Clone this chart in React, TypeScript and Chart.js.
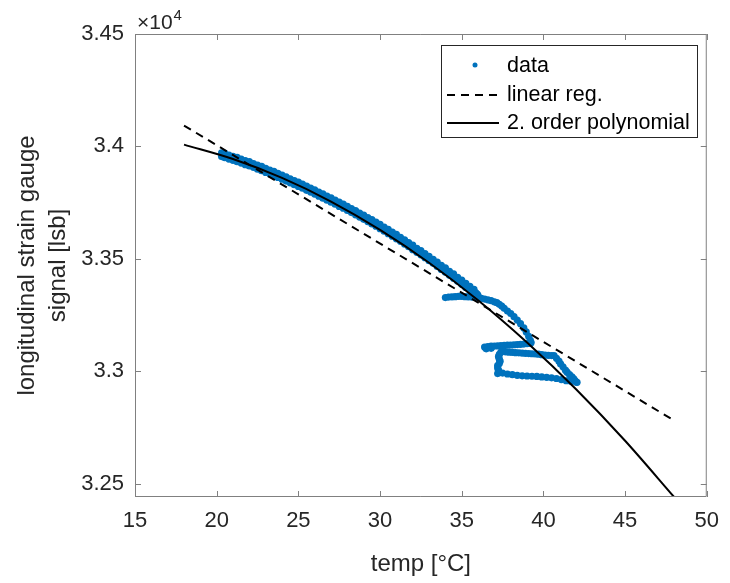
import React, { useEffect, useRef } from 'react';
import { Chart, registerables } from 'chart.js';

Chart.register(...registerables);

const FONT = "'Liberation Sans', Arial, Helvetica, sans-serif";
const TEXT = '#262626';
const AXIS = '#808080';
const BLUE = '#0072BD';

// tick values
const xTicks = [15, 20, 25, 30, 35, 40, 45, 50];
const yTicks = [32500, 33000, 33500, 34000, 34500]; // raw lsb
const yExponent = 4;

// main band of measurement (temp in °C, signal in lsb)
const mainTemp = [20.3, 20.5, 20.75, 21, 21.25, 21.5, 21.75, 22, 22.25, 22.5,
  22.75, 23, 23.25, 23.5, 23.75, 24, 24.25, 24.5, 24.75, 25,
  25.25, 25.5, 25.75, 26, 26.25, 26.5, 26.75, 27, 27.25, 27.5,
  27.75, 28, 28.25, 28.5, 28.75, 29, 29.25, 29.5, 29.75, 30,
  30.25, 30.5, 30.75, 31, 31.25, 31.5, 31.75, 32, 32.25, 32.5,
  32.75, 33, 33.25, 33.5, 33.75, 34, 34.25, 34.5, 34.75, 35,
  35.25, 35.5, 35.75];
const mainUpper = [33971, 33969, 33962, 33956, 33951, 33944, 33937, 33932, 33924, 33917,
  33911, 33902, 33895, 33889, 33880, 33872, 33865, 33856, 33848, 33841,
  33832, 33824, 33815, 33807, 33797, 33789, 33779, 33771, 33761, 33752,
  33743, 33734, 33724, 33715, 33704, 33695, 33684, 33675, 33663, 33653,
  33641, 33631, 33619, 33609, 33596, 33585, 33572, 33561, 33547, 33537,
  33523, 33511, 33498, 33486, 33471, 33460, 33445, 33433, 33418, 33406,
  33391, 33378, 33364];
const mainLower = [33955, 33950, 33944, 33938, 33932, 33926, 33919, 33913, 33907, 33899,
  33892, 33884, 33878, 33870, 33862, 33854, 33846, 33838, 33830, 33822,
  33814, 33805, 33797, 33788, 33779, 33770, 33761, 33752, 33743, 33733,
  33725, 33715, 33706, 33696, 33686, 33676, 33666, 33655, 33645, 33634,
  33623, 33612, 33601, 33589, 33578, 33566, 33554, 33541, 33529, 33518,
  33505, 33492, 33480, 33466, 33453, 33441, 33427, 33414, 33400, 33387,
  33373, 33359, 33346];

// hysteresis loop part
const loopTemp = [35.85, 35.95, 36.0,
  34.0, 34.2, 34.4, 34.6, 34.8, 35.0, 35.2, 35.4, 35.6, 35.8, 36.0, 36.2,
  36.4, 36.6, 36.8, 37.0, 37.15, 37.3, 37.45, 37.6, 37.8, 38.0, 38.2, 38.4, 38.6, 38.8, 38.95, 39.1, 39.2, 39.25,
  36.4, 36.5, 36.6, 36.8, 36.8, 37.0, 37.2, 37.4, 37.6, 37.8, 38.0, 38.2, 38.4, 38.6, 38.8, 39.0, 39.2,
  37.7, 37.9, 38.1, 38.3, 38.5, 38.7, 38.9, 39.1, 39.3, 39.5, 39.7, 39.9, 40.1, 40.3, 40.5,
  37.5, 37.4, 37.3, 37.25, 37.3, 37.35, 37.3, 37.2, 37.2, 37.25, 37.3, 37.2,
  37.5, 37.8, 38.1, 38.4, 38.7, 39.0, 39.3, 39.6, 39.9, 40.2, 40.5, 40.8, 41.1, 41.4, 41.7, 42.0,
  40.65, 40.8, 40.95, 41.05, 41.2, 41.35, 41.45, 41.6, 41.75, 41.86, 41.95, 42.06];
const loopSignal = [33350, 33343, 33337,
  33328, 33330, 33331, 33332, 33333, 33333, 33332, 33331, 33330, 33329, 33327, 33324,
  33321, 33318, 33314, 33309, 33305, 33298, 33290, 33280, 33268, 33257, 33243, 33228, 33212, 33193, 33175, 33155, 33138, 33128,
  33108, 33100, 33110, 33102, 33112, 33112, 33113, 33114, 33115, 33116, 33117, 33118, 33119, 33120, 33121, 33123, 33124,
  33086, 33085, 33084, 33083, 33082, 33081, 33080, 33079, 33078, 33077, 33076, 33074, 33072, 33071, 33070,
  33095, 33085, 33075, 33065, 33055, 33045, 33035, 33025, 33015, 33005, 32995, 32990,
  32992, 32988, 32985, 32982, 32980, 32979, 32978, 32977, 32975, 32973, 32971, 32968, 32963, 32958, 32955, 32952,
  33070, 33058, 33045, 33033, 33020, 33005, 32996, 32985, 32975, 32966, 32958, 32951];

// fits
const linTemp = [18, 48];
const linSignal = [34093, 32781];
const polyTemp = [18, 21, 24, 27, 30, 33, 36, 39, 42, 45, 48];
const polySignal = [34008, 33944, 33860, 33755, 33629, 33483, 33316, 33128, 32920, 32691, 32441];

const labels = ['data', 'linear reg.', '2. order polynomial'];

function pts(xs: number[], ys: number[]) {
  return xs.map((x, i) => ({ x, y: ys[i] }));
}

const overlayPlugin = {
  id: 'matlabOverlay',
  afterDatasetsDraw(chart: any) {
    const { ctx, chartArea: a, scales } = chart;
    const xs = scales.x;
    const ys = scales.y;
    ctx.save();
    ctx.strokeStyle = AXIS;
    ctx.lineWidth = 1;
    ctx.beginPath();
    ctx.rect(a.left + 0.5, a.top + 0.5, a.right - a.left - 1, a.bottom - a.top - 1);
    ctx.stroke();
    const tl = 6;
    ctx.beginPath();
    xTicks.forEach((v) => {
      const p = Math.round(xs.getPixelForValue(v)) + 0.5;
      ctx.moveTo(p, a.bottom);
      ctx.lineTo(p, a.bottom - tl);
      ctx.moveTo(p, a.top);
      ctx.lineTo(p, a.top + tl);
    });
    yTicks.forEach((v) => {
      const p = Math.round(ys.getPixelForValue(v)) + 0.5;
      ctx.moveTo(a.left, p);
      ctx.lineTo(a.left + tl, p);
      ctx.moveTo(a.right, p);
      ctx.lineTo(a.right - tl, p);
    });
    ctx.stroke();
    ctx.restore();
  },
  afterDraw(chart: any) {
    const { ctx, chartArea: a } = chart;
    ctx.save();
    // exponent label
    ctx.fillStyle = TEXT;
    ctx.textAlign = 'left';
    ctx.textBaseline = 'alphabetic';
    ctx.font = `21px ${FONT}`;
    ctx.fillText('×10', a.left + 2, 29);
    const w = ctx.measureText('×10').width;
    ctx.font = `15px ${FONT}`;
    ctx.fillText(String(yExponent), a.left + 3 + w, 20);

    // legend
    const bx = 441, by = 45, bw = 257, bh = 93;
    ctx.fillStyle = '#ffffff';
    ctx.fillRect(bx, by, bw, bh);
    ctx.strokeStyle = TEXT;
    ctx.lineWidth = 1;
    ctx.strokeRect(bx + 0.5, by + 0.5, bw - 1, bh - 1);
    const rows = [66, 95, 123];
    const ds = chart.data.datasets;
    // marker
    ctx.fillStyle = BLUE;
    ctx.beginPath();
    ctx.arc(475, rows[0] - 1, 2.5, 0, Math.PI * 2);
    ctx.fill();
    // dashed
    ctx.strokeStyle = ds[1].borderColor;
    ctx.lineWidth = ds[1].borderWidth;
    ctx.setLineDash(ds[1].borderDash);
    ctx.beginPath();
    ctx.moveTo(447, rows[1]);
    ctx.lineTo(499, rows[1]);
    ctx.stroke();
    ctx.setLineDash([]);
    ctx.strokeStyle = ds[2].borderColor;
    ctx.lineWidth = ds[2].borderWidth;
    ctx.beginPath();
    ctx.moveTo(447, rows[2]);
    ctx.lineTo(499, rows[2]);
    ctx.stroke();
    ctx.fillStyle = '#000000';
    ctx.font = `21.5px ${FONT}`;
    ctx.textBaseline = 'middle';
    labels.forEach((t, i) => ctx.fillText(t, 507, rows[i]));
    ctx.restore();
  },
};

export default function App() {
  const ref = useRef<HTMLCanvasElement | null>(null);
  useEffect(() => {
    if (!ref.current) return;
    const data = pts(mainTemp, mainUpper)
      .concat(pts(mainTemp, mainLower))
      .concat(pts(loopTemp, loopSignal));
    const chart = new Chart(ref.current, {
      type: 'scatter',
      data: {
        datasets: [
          {
            label: labels[0],
            data,
            showLine: false,
            pointRadius: 3.6,
            pointBorderWidth: 0,
            backgroundColor: BLUE,
            borderColor: BLUE,
            order: 3,
          },
          {
            label: labels[1],
            type: 'line',
            data: pts(linTemp, linSignal),
            borderColor: '#000000',
            borderWidth: 2,
            borderDash: [8, 6],
            pointRadius: 0,
            fill: false,
            order: 2,
          },
          {
            label: labels[2],
            type: 'line',
            data: pts(polyTemp, polySignal),
            borderColor: '#000000',
            borderWidth: 2,
            pointRadius: 0,
            fill: false,
            cubicInterpolationMode: 'monotone',
            order: 1,
          },
        ] as any,
      },
      options: {
        animation: false,
        responsive: false,
        events: [],
        layout: { padding: { left: 0, right: 15, top: 34, bottom: 0 } },
        plugins: { legend: { display: false }, tooltip: { enabled: false } },
        scales: {
          x: {
            type: 'linear',
            min: 15,
            max: 50,
            grid: { display: false, drawTicks: false },
            border: { display: false },
            afterBuildTicks: (s: any) => { s.ticks = xTicks.map((v) => ({ value: v })); },
            afterFit: (s: any) => { s.height = 86; },
            ticks: { padding: 11, color: TEXT, font: { family: FONT, size: 22 } },
            title: {
              display: true,
              text: 'temp [°C]',
              color: TEXT,
              font: { family: FONT, size: 24, lineHeight: 1.2 },
              padding: { top: 0, bottom: 4 },
            },
          },
          y: {
            type: 'linear',
            min: 32441,
            max: 34500,
            grid: { display: false, drawTicks: false },
            border: { display: false },
            afterBuildTicks: (s: any) => { s.ticks = yTicks.map((v) => ({ value: v })); },
            afterFit: (s: any) => { s.width = 135; },
            ticks: {
              padding: 11,
              color: TEXT,
              font: { family: FONT, size: 22 },
              callback: (v: any) => String(Math.round(Number(v)) / Math.pow(10, yExponent)),
            },
            title: {
              display: true,
              text: ['longitudinal strain gauge', 'signal [lsb]'],
              color: TEXT,
              font: { family: FONT, size: 24, lineHeight: 1.3 },
              padding: { top: 12, bottom: 0 },
            },
          },
        },
      },
      plugins: [overlayPlugin],
    });
    return () => chart.destroy();
  }, []);
  return (
    <div style={{ position: 'fixed', left: 0, top: 0, width: 730, height: 583, background: '#fff' }}>
      <canvas ref={ref} width={730} height={583} style={{ display: 'block' }} />
    </div>
  );
}
